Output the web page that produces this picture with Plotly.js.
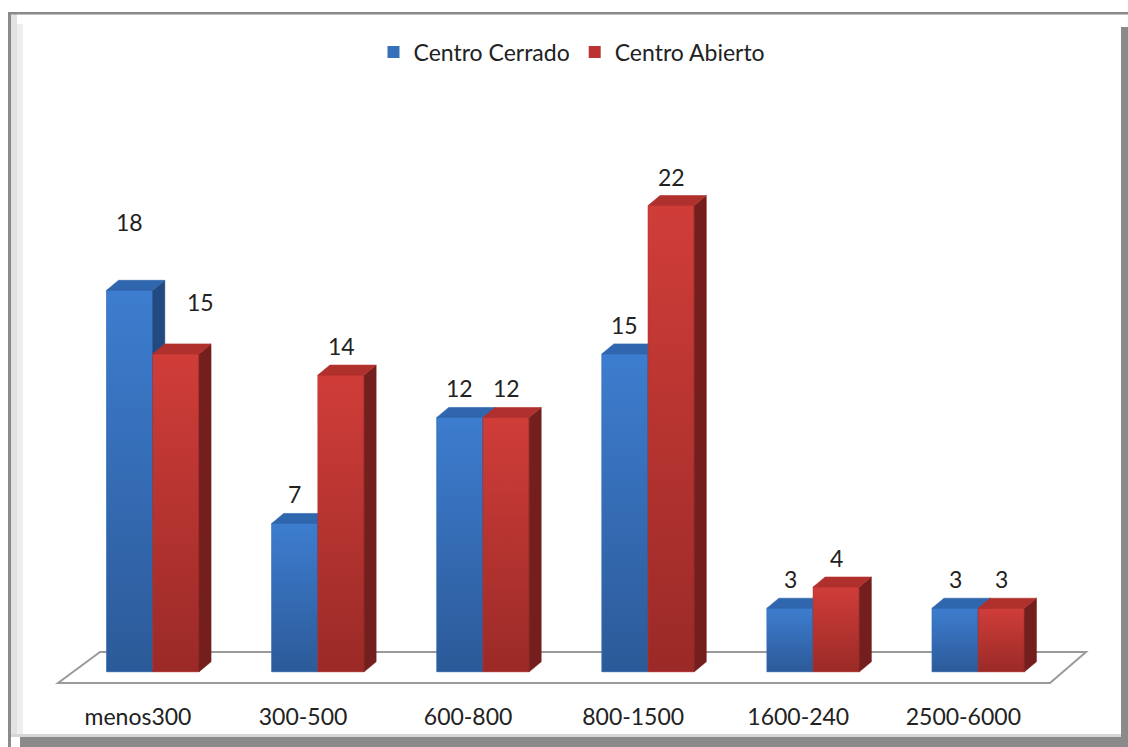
<!DOCTYPE html>
<html>
<head>
<meta charset="utf-8">
<script src="https://cdn.plot.ly/plotly-3.0.1.min.js"></script>
<style>
html,body{margin:0;padding:0;background:#fff;}
#chart{width:1128px;height:747px;}
</style>
</head>
<body>
<div id="chart"></div>
<script>
// ---- data ----
const categories = ['menos300', '300-500', '600-800', '800-1500', '1600-240', '2500-6000'];
const centroCerrado = [18, 7, 12, 15, 3, 3];
const centroAbierto = [15, 14, 12, 22, 4, 3];
const seriesNames = ['Centro Cerrado', 'Centro Abierto'];

// ---- geometry / style ----
const W = 1128, H = 747;
const M = {l: 29, r: 26, t: 36, b: 54};
const XR = [-0.75, 5.75], YR = [-1, 30];
const PW = W - M.l - M.r, PH = H - M.t - M.b;
const pxPerX = PW / (XR[1] - XR[0]);
const pxPerY = PH / (YR[1] - YR[0]);
const px2x = p => XR[0] + (p - M.l) / pxPerX;
const px2y = p => YR[1] - (p - M.t) / pxPerY;
const paperX = p => (p - M.l) / PW;
const paperY = p => (M.t + PH - p) / PH;

const BW = 0.28;             // bar width (x units)
const DX = 12 / pxPerX;      // depth offset horizontal
const DY = 10 / pxPerY;      // depth offset vertical

const styles = [
  {mid: '#3670bb', front: ['#2c5a98', '#3d7dcf'], side: '#234a80', top: '#2f66ad'},
  {mid: '#bb3431', front: ['#9a2a27', '#d03d39'], side: '#741f1d', top: '#b0302d'}
];

const seriesVals = [centroCerrado, centroAbierto];
const idx = categories.map((c, i) => i);

const traces = [];
// base bar traces (real bars, give legend)
seriesVals.forEach((vals, s) => {
  traces.push({
    type: 'bar', name: seriesNames[s], x: idx, y: vals,
    marker: {color: styles[s].mid, line: {width: 0}},
    hoverinfo: 'skip'
  });
});

// 3D faces drawn from the same data
idx.forEach(i => {
  seriesVals.forEach((vals, s) => {
    const v = vals[i];
    const xl = i - BW + s * BW, xr = xl + BW;
    const st = styles[s];
    // front
    traces.push({
      type: 'scatter', mode: 'lines', showlegend: false, hoverinfo: 'skip',
      x: [xl, xr, xr, xl, xl], y: [0, 0, v, v, 0],
      fill: 'toself', line: {width: 0.6, color: st.mid},
      fillgradient: {type: 'vertical', start: 0, stop: v,
        colorscale: [[0, st.front[0]], [1, st.front[1]]]}
    });
    // side
    traces.push({
      type: 'scatter', mode: 'lines', showlegend: false, hoverinfo: 'skip',
      x: [xr, xr + DX, xr + DX, xr, xr], y: [0, DY, v + DY, v, 0],
      fill: 'toself', fillcolor: st.side, line: {width: 0.6, color: st.side}
    });
    // top
    traces.push({
      type: 'scatter', mode: 'lines', showlegend: false, hoverinfo: 'skip',
      x: [xl, xl + DX, xr + DX, xr, xl], y: [v, v + DY, v + DY, v, v],
      fill: 'toself', fillcolor: st.top, line: {width: 0.6, color: st.top}
    });
  });
});

// data labels
const annotations = [];
idx.forEach(i => {
  seriesVals.forEach((vals, s) => {
    let yshift = 29, xshift = 0;
    if (i === 0 && s === 0) yshift = 68;
    if (i === 0 && s === 1) { yshift = 52; xshift = 25; }
    annotations.push({
      x: i - BW / 2 + s * BW, y: vals[i], xref: 'x', yref: 'y',
      text: String(vals[i]), showarrow: false, yshift: yshift, xshift: xshift,
      yanchor: 'middle', xanchor: 'center',
      font: {family: 'Lato, sans-serif', size: 23, color: '#222'}
    });
  });
});

// floor & frame shapes
const fy0 = px2y(683), fy1 = px2y(652);
const shapes = [
  // frame
  {type: 'rect', xref: 'paper', yref: 'paper', layer: 'below',
   x0: paperX(11), x1: paperX(17), y0: paperY(737), y1: paperY(14),
   fillcolor: '#e2e2e2', line: {width: 0}},
  {type: 'rect', xref: 'paper', yref: 'paper', layer: 'below',
   x0: paperX(17), x1: paperX(23), y0: paperY(737), y1: paperY(24),
   fillcolor: '#eeeeee', line: {width: 0}},
  {type: 'rect', xref: 'paper', yref: 'paper', layer: 'below',
   x0: paperX(11), x1: paperX(1121), y0: paperY(737), y1: paperY(734),
   fillcolor: '#d6d6d6', line: {width: 0}},
  {type: 'rect', xref: 'paper', yref: 'paper', layer: 'below',
   x0: paperX(8), x1: paperX(1128), y0: paperY(14.5), y1: paperY(12),
   fillcolor: '#8a8a8a', line: {width: 0}},
  {type: 'rect', xref: 'paper', yref: 'paper', layer: 'below',
   x0: paperX(8), x1: paperX(11), y0: paperY(747), y1: paperY(12),
   fillcolor: '#8a8a8a', line: {width: 0}},
  {type: 'rect', xref: 'paper', yref: 'paper', layer: 'below',
   x0: paperX(1121), x1: paperX(1128), y0: paperY(747), y1: paperY(27),
   fillcolor: '#8a8a8a', line: {width: 0}},
  {type: 'rect', xref: 'paper', yref: 'paper', layer: 'below',
   x0: paperX(20), x1: paperX(1128), y0: paperY(747), y1: paperY(737),
   fillcolor: '#8a8a8a', line: {width: 0}},
  // floor
  {type: 'path', xref: 'x', yref: 'y', layer: 'below',
   path: `M ${px2x(58)} ${fy0} L ${px2x(100)} ${fy1} L ${px2x(1086)} ${fy1} L ${px2x(1050)} ${fy0} Z`,
   fillcolor: '#ffffff', line: {color: '#9a9a9a', width: 2}}
];

const layout = {
  width: W, height: H,
  margin: M,
  paper_bgcolor: '#ffffff', plot_bgcolor: 'rgba(0,0,0,0)',
  barmode: 'group', bargap: 0.44, bargroupgap: 0,
  showlegend: true,
  legend: {orientation: 'h', x: paperX(572), xanchor: 'center', y: paperY(52), yanchor: 'middle',
    font: {family: 'Lato, sans-serif', size: 23, color: '#222'}, itemwidth: 30,
    traceorder: 'normal', bgcolor: 'rgba(0,0,0,0)'},
  xaxis: {range: XR, tickmode: 'array', tickvals: idx.map(i => i - 0.09), ticktext: categories,
    showgrid: false, zeroline: false, showline: false, ticks: '', ticklabelstandoff: 8,
    tickfont: {family: 'Lato, sans-serif', size: 23, color: '#222'}, fixedrange: true},
  yaxis: {range: YR, visible: false, showgrid: false, zeroline: false, fixedrange: true},
  annotations: annotations,
  shapes: shapes,
  hovermode: false
};

Plotly.newPlot('chart', traces, layout, {displayModeBar: false, staticPlot: true});
</script>
</body>
</html>
